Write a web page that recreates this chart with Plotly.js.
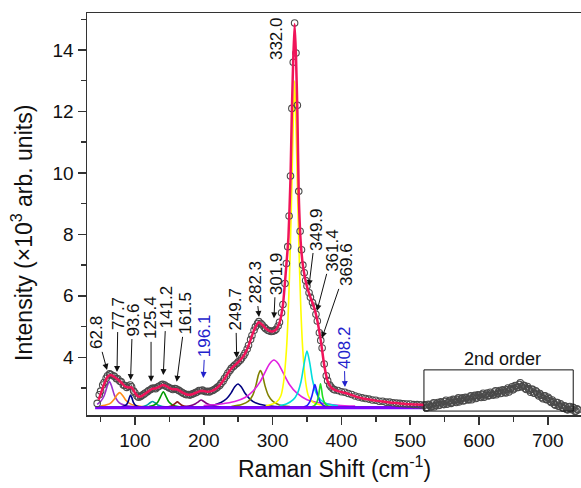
<!DOCTYPE html>
<html>
<head>
<meta charset="utf-8">
<script src="https://cdn.plot.ly/plotly-3.0.1.min.js"></script>
<style>html,body{margin:0;padding:0;background:#fff;}#chart{width:581px;height:488px;}</style>
</head>
<body>
<div id="chart"></div>
<script>
// ---- experimental spectrum (open circles) ----
const dataX = [45,48,50,53,55,58,60,63,65,68,70,73,75,78,80,83,85,88,90,93,95,98,100,103,105,108,110,113,115,118,120,123,125,128,130,133,135,138,140,143,145,148,150,153,155,158,160,163,165,168,170,173,175,178,180,183,185,188,190,193,195,198,200,203,205,208,210,213,215,218,220,223,225,228,230,233,235,238,240,243,245,248,250,253,255,258,260,263,265,268,270,273,275,278,280,283,285,288,290,293,295,298,300,303,305,308,310,313,315,318,320,322,324,326,328,330,332,334,336,338,340,342,344,346,348,350,353,355,358,360,363,365,368,370,372,375,378,380,383,385,388,390,395,400,405,410,415,420,425,430,435,440,445,450,455,460,465,470,475,480,485,490,495,500,505,510,515,520,
  522,525,528,531,534,537,540,543,546,549,552,555,558,561,564,567,570,573,576,579,582,585,588,591,594,597,600,603,606,609,612,615,618,621,624,627,630,633,636,639,642,645,648,651,654,657,660,663,666,669,672,675,678,681,684,687,690,693,696,699,702,705,708,711,714,717,720,723,726,729,732,735,738,741,744];
const dataY = [2.50,2.78,2.90,3.10,3.18,3.32,3.40,3.46,3.44,3.40,3.38,3.30,3.30,3.22,3.20,3.10,3.08,3.02,3.06,3.10,3.04,2.90,2.84,2.74,2.70,2.72,2.76,2.80,2.84,2.88,2.92,2.95,2.99,3.00,2.98,3.03,3.06,3.10,3.12,3.10,3.06,3.03,3.00,2.98,2.95,2.98,2.97,2.93,2.90,2.86,2.83,2.80,2.78,2.79,2.77,2.80,2.82,2.85,2.87,2.92,2.91,2.93,2.90,2.88,2.89,2.87,2.90,2.92,2.95,2.99,3.03,3.08,3.15,3.22,3.31,3.40,3.49,3.57,3.64,3.70,3.75,3.80,3.85,3.90,3.97,4.06,4.14,4.27,4.39,4.58,4.71,4.88,4.99,5.10,5.16,5.10,5.05,4.98,4.93,4.88,4.86,4.84,4.85,4.87,4.91,5.02,5.14,5.45,5.72,6.40,7.05,7.60,8.60,9.90,12.1,13.6,14.88,13.9,12.2,9.4,8.1,7.5,7.0,6.75,6.5,6.32,6.10,5.95,5.78,5.66,5.40,5.18,4.80,4.55,4.30,3.78,3.40,3.24,3.10,3.03,2.97,2.94,2.92,2.88,2.86,2.82,2.79,2.74,2.71,2.68,2.66,2.64,2.61,2.60,2.57,2.57,2.54,2.54,2.52,2.51,2.50,2.49,2.48,2.48,2.46,2.46,2.45,2.44,
  2.45,2.37,2.45,2.38,2.52,2.44,2.53,2.45,2.52,2.46,2.60,2.52,2.60,2.53,2.60,2.53,2.68,2.60,2.68,2.60,2.68,2.61,2.75,2.68,2.76,2.68,2.76,2.69,2.83,2.75,2.84,2.76,2.83,2.77,2.91,2.83,2.92,2.84,2.91,2.84,3.00,2.94,3.04,2.98,3.07,3.02,3.17,3.04,3.08,2.95,2.98,2.86,2.96,2.83,2.87,2.74,2.77,2.65,2.75,2.62,2.65,2.53,2.55,2.44,2.53,2.41,2.44,2.34,2.38,2.29,2.40,2.30,2.35,2.25,2.29];
// interleaved readings in the noisy 2nd-order band
const data2X = [523.5,526.5,529.5,532.5,535.5,538.5,541.5,544.5,547.5,550.5,553.5,556.5,559.5,562.5,565.5,568.5,571.5,574.5,577.5,580.5,583.5,586.5,589.5,592.5,595.5,598.5,601.5,604.5,607.5,610.5,613.5,616.5,619.5,622.5,625.5,628.5,631.5,634.5,637.5,640.5,643.5,646.5,649.5,652.5,655.5,658.5,661.5,664.5,667.5,670.5,673.5,676.5,679.5,682.5,685.5,688.5,691.5,694.5,697.5,700.5,703.5,706.5,709.5,712.5,715.5,718.5,721.5,724.5,727.5,730.5,733.5,736.5,739.5,742.5];
const data2Y = [2.35,2.47,2.40,2.48,2.39,2.49,2.43,2.55,2.47,2.56,2.47,2.57,2.50,2.63,2.55,2.63,2.55,2.65,2.58,2.70,2.63,2.71,2.62,2.73,2.66,2.78,2.71,2.79,2.70,2.80,2.74,2.86,2.78,2.87,2.78,2.88,2.82,2.94,2.86,2.94,2.87,2.99,2.94,3.08,3.02,3.12,3.04,3.09,2.98,3.05,2.93,2.96,2.84,2.91,2.79,2.82,2.69,2.74,2.63,2.70,2.57,2.61,2.47,2.53,2.41,2.49,2.36,2.42,2.30,2.38,2.30,2.37,2.24,2.32];

// ---- cumulative fit (pink line) ----
const fitX = [47,50,55,60,65,70,75,80,85,90,95,100,105,110,115,120,125,130,135,140,145,150,155,160,165,170,175,180,185,190,195,200,205,210,215,220,225,230,235,240,245,250,255,260,265,270,275,280,285,290,295,300,305,310,315,320,323,326,328,330,332,334,336,338,341,344,347,350,355,360,365,370,375,380,385,390,395,400,405,410,415,420,430,440,450,460,470,480,490,500,510,520];
const fitY = [2.62,2.80,3.12,3.36,3.42,3.36,3.28,3.18,3.06,3.02,3.02,2.84,2.72,2.74,2.82,2.90,2.97,2.99,3.04,3.10,3.07,3.00,2.96,2.96,2.91,2.84,2.79,2.78,2.81,2.86,2.90,2.90,2.88,2.89,2.94,3.02,3.14,3.30,3.48,3.63,3.74,3.84,3.96,4.13,4.38,4.70,4.98,5.14,5.06,4.94,4.86,4.84,4.90,5.12,5.70,7.00,7.90,9.80,12.0,13.7,14.85,13.8,12.0,9.3,7.7,7.0,6.6,6.3,5.95,5.65,5.20,4.55,3.75,3.22,3.02,2.94,2.90,2.87,2.84,2.81,2.77,2.73,2.67,2.63,2.59,2.56,2.53,2.51,2.49,2.47,2.46,2.45];

// ---- fitted components ----
const c628X = [45,50,55,58,60,62.8,66,70,75,80,90,100];
const c628Y = [2.47,2.56,2.74,2.94,3.09,3.21,3.06,2.77,2.57,2.48,2.41,2.39];
const c777X = [50,60,65,70,74,77.7,82,86,92,100,115];
const c777Y = [2.41,2.46,2.52,2.64,2.78,2.85,2.76,2.62,2.50,2.43,2.39];
const c936X = [80,85,88,90.5,92,93.6,95.5,97.5,100,104,110];
const c936Y = [2.39,2.42,2.47,2.59,2.70,2.77,2.68,2.54,2.45,2.40,2.38];
const c1254X = [105,112,118,122,125.4,129,133,140,150];
const c1254Y = [2.38,2.40,2.45,2.52,2.56,2.52,2.45,2.40,2.38];
const c1412X = [120,128,133,137,141.2,145,149,155,165,175];
const c1412Y = [2.40,2.45,2.54,2.71,2.88,2.73,2.55,2.44,2.39,2.37];
const c1615X = [140,150,155,158.5,161.5,164.5,168,175,185];
const c1615Y = [2.37,2.40,2.44,2.50,2.55,2.50,2.44,2.39,2.37];
const c1961X = [165,180,188,192,196.1,200,205,212,225];
const c1961Y = [2.38,2.42,2.49,2.55,2.61,2.56,2.49,2.43,2.38];
const c2497X = [200,215,225,233,240,245,249.7,255,260,267,275,290,310];
const c2497Y = [2.41,2.45,2.53,2.65,2.85,3.04,3.13,3.02,2.83,2.64,2.52,2.43,2.39];
const c2823X = [240,255,265,271,276,279.5,282.3,285,289,294,300,310,325];
const c2823Y = [2.40,2.46,2.57,2.76,3.11,3.44,3.57,3.45,3.07,2.75,2.57,2.45,2.40];
const c3019X = [200,225,245,260,272,282,290,296,301.9,308,315,325,335,350,370,395,420];
const c3019Y = [2.43,2.48,2.56,2.69,2.91,3.21,3.56,3.80,3.91,3.80,3.51,3.10,2.84,2.62,2.51,2.44,2.41];
const c3320X = [290,300,306,312,316,320,323,326,328,330,332,334,336,338,341,344,348,352,358,370,385];
const c3320Y = [2.42,2.48,2.55,2.75,3.2,4.2,5.6,7.8,9.6,11.6,13.0,11.6,9.6,7.8,5.6,4.2,3.2,2.75,2.55,2.45,2.41];
const c3499X = [310,320,330,336,341,345,349.9,354,358,363,370,380,395];
const c3499Y = [2.43,2.48,2.62,2.82,3.18,3.68,4.20,3.82,3.26,2.86,2.61,2.48,2.42];
const c3614X = [345,350,354,357,359.5,361.4,363.5,366,369,374,380];
const c3614Y = [2.38,2.43,2.55,2.73,2.96,3.11,2.96,2.73,2.55,2.43,2.38];
const c3696X = [355,360,364,366.5,368.3,369.6,371,372.8,375.5,380,386];
const c3696Y = [2.38,2.42,2.52,2.71,2.98,3.14,2.98,2.71,2.52,2.42,2.38];
const baseX = [42,520];
const baseY = [2.36,2.36];
const base2Y = [2.39,2.39];

// ---- peak labels ----
const peakLabels = ["62.8","77.7","93.6","125.4","141.2","161.5","196.1","249.7","282.3","301.9","349.9","361.4","369.6","408.2"];
const peakTipX =   [59.3,73.8,93.5,123.3,141.1,160.6,199.3,247.8,280.2,302.0,352.9,364.5,371.8,405.2];
const peakTipY =   [3.59,3.52,3.26,3.20,3.42,3.20,3.33,3.98,5.31,5.27,6.32,5.51,4.63,3.03];
const mainLabel = "332.0";

const components = [
  [c628X,c628Y,'#9932CC'],[c777X,c777Y,'#FF8C1A'],[c936X,c936Y,'#000080'],
  [c1254X,c1254Y,'#00A0A0'],[c1412X,c1412Y,'#009900'],[c1615X,c1615Y,'#8B1A1A'],
  [c1961X,c1961Y,'#800080'],[c2497X,c2497Y,'#000080'],[c2823X,c2823Y,'#808000'],
  [c3019X,c3019Y,'#E020E0'],[c3320X,c3320Y,'#FFFF00'],[c3499X,c3499Y,'#00DDDD'],
  [c3614X,c3614Y,'#1E1EFF'],[c3696X,c3696Y,'#22DD22']
];

const markerStyle = {symbol:'circle-open', size:6.5, color:'#4a4a4a', line:{width:1.1, color:'#4a4a4a'}};
const traces = [];
components.forEach(c => traces.push({x:c[0], y:c[1], mode:'lines', line:{color:c[2], width:1.6, shape:'spline', smoothing:0.8}, hoverinfo:'skip'}));
traces.push({x:baseX, y:base2Y, mode:'lines', line:{color:'#000080', width:1.2}});
traces.push({x:baseX, y:baseY, mode:'lines', line:{color:'#7F00FF', width:3}});
traces.push({x:dataX, y:dataY, mode:'markers', marker:markerStyle});
traces.push({x:data2X, y:data2Y, mode:'markers', marker:markerStyle});
traces.push({x:fitX, y:fitY, mode:'lines', line:{color:'#F0145A', width:2.5, shape:'spline', smoothing:0.5}});

// label placement offsets (px)
const offs = [[-10,-37],[1,-59],[2,-60],[0,-64],[3,-68],[9,-69],[2,-42],[-1,-49],[-3.5,-35],[2,-45],[7,-57],[16,-61],[25,-73],[-1,-40]];
const blue = {"196.1":true,"408.2":true};
const annotations = peakLabels.map((t,i) => ({
  x: peakTipX[i], y: peakTipY[i], xref:'x', yref:'y', text:t, textangle:-90,
  showarrow:true, ax:offs[i][0], ay:offs[i][1], arrowhead:2, arrowsize:1.2, arrowwidth:1,
  arrowcolor: blue[t] ? '#2222CC' : '#111', standoff:0, startstandoff:1,
  font:{size:17, color: blue[t] ? '#2222CC' : '#111'}
}));
annotations.push({x:306, y:14.38, xref:'x', yref:'y', text:mainLabel, textangle:-90, showarrow:false, font:{size:17,color:'#111'}});
annotations.push({x:633.6, y:3.945, xref:'x', yref:'y', text:'2nd order', showarrow:false, font:{size:18,color:'#111'}});
annotations.push({x:-0.1316, y:0.4527, xref:'paper', yref:'paper', xanchor:'center', yanchor:'middle', text:'Intensity (×10<sup>3</sup> arb. units)', textangle:-90, showarrow:false, font:{size:23,color:'#111'}});
annotations.push({x:0.502, y:-0.129, xref:'paper', yref:'paper', xanchor:'center', yanchor:'middle', text:'Raman Shift (cm<sup>-1</sup>)', showarrow:false, font:{size:23,color:'#111'}});

const layout = {
  width:581, height:488,
  margin:{l:87, r:0, t:13, b:73},
  paper_bgcolor:'#fff', plot_bgcolor:'#fff',
  showlegend:false,
  font:{family:'"Liberation Sans", Arial, sans-serif', color:'#111'},
  xaxis:{range:[30.2,748.3], tick0:0, dtick:100, ticks:'outside', ticklen:8, tickwidth:1.5, tickcolor:'#333',
    minor:{dtick:50, ticks:'outside', ticklen:5, tickwidth:1.5, tickcolor:'#333'},
    showline:true, linecolor:'#333', linewidth:1.5, mirror:true, showgrid:false, zeroline:false,
    tickfont:{size:19, color:'#111'}},
  yaxis:{range:[2.122,15.204], tick0:0, dtick:2, ticks:'outside', ticklen:8, tickwidth:1.5, tickcolor:'#333',
    minor:{dtick:1, ticks:'outside', ticklen:5, tickwidth:1.5, tickcolor:'#333'},
    showline:true, linecolor:'#333', linewidth:1.5, mirror:false, showgrid:false, zeroline:false,
    tickfont:{size:19, color:'#111'}},
  shapes:[{type:'rect', xref:'x', yref:'y', x0:520, x1:737, y0:2.25, y1:3.59, line:{color:'#111', width:1}}],
  annotations: annotations
};
Plotly.newPlot('chart', traces, layout, {staticPlot:true});
</script>
</body>
</html>
